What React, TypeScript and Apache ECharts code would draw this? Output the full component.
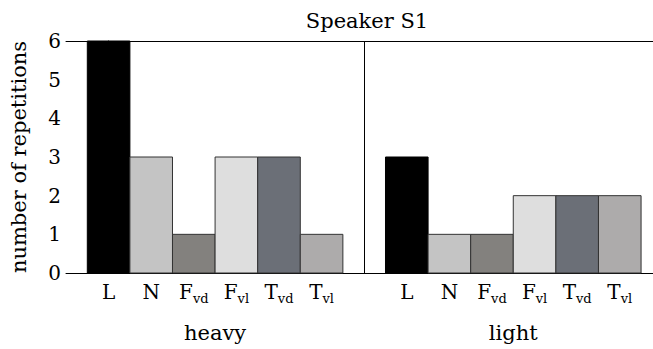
import React, { useEffect, useRef } from "react";
import * as echarts from "echarts";

const title = "Speaker S1";
const yAxisName = "number of repetitions";
const groups = ["heavy", "light"];
const barKinds = ["L", "N", "Fvd", "Fvl", "Tvd", "Tvl"];
const barColors = ["#000000", "#c4c4c4", "#83817e", "#dedede", "#6b6f77", "#adabab"];
const heavyValues = [6, 3, 1, 3, 3, 1];
const lightValues = [3, 1, 1, 2, 2, 2];
const yTicks = [0, 1, 2, 3, 4, 5, 6];

const FONT = "DejaVu Serif";

// slot positions: heavy at 0..5, separator at 6, light at 7..12
const slotOf = (g: number, i: number) => g * 7 + i;

const labelFor = (k: string) => {
  if (k.length === 1) return `{b|${k}}`;
  return `{b|${k[0]}}{s|${k.slice(1)}}`;
};

export default function App() {
  const ref = useRef<HTMLDivElement>(null);
  useEffect(() => {
    if (!ref.current) return;
    const chart = echarts.init(ref.current, null, { renderer: "svg" });
    const barData: any[] = [];
    [heavyValues, lightValues].forEach((vals, g) => {
      vals.forEach((v, i) => barData.push({ value: [slotOf(g, i), v, i] }));
    });
    const slotLabels: Record<number, string> = {};
    groups.forEach((_, g) => barKinds.forEach((k, i) => (slotLabels[slotOf(g, i)] = labelFor(k))));
    const groupData = groups.map((name, g) => ({ value: [slotOf(g, 2.5), 0], name }));

    chart.setOption({
      animation: false,
      title: {
        text: title,
        left: 362,
        textAlign: "center",
        top: 5,
        textStyle: { fontFamily: FONT, fontSize: 21, fontWeight: "normal", color: "#000" },
      },
      grid: { left: 65, right: 0, top: 41, bottom: 76, containLabel: false },
      xAxis: [
        {
          type: "value",
          min: -1,
          max: 12.78,
          interval: 1,
          position: "bottom",
          axisLine: { show: true, onZero: false, lineStyle: { color: "#000", width: 1 } },
          axisTick: { show: false },
          splitLine: { show: false },
          axisLabel: {
            margin: 9,
            showMaxLabel: false,
            formatter: (v: number) => slotLabels[Math.round(v)] ?? "",
            rich: {
              b: { fontFamily: FONT, fontSize: 20, color: "#000", lineHeight: 20 },
              s: { fontFamily: FONT, fontSize: 13, color: "#000", lineHeight: 13, padding: [13, 0, 0, 0] },
            },
          },
        },
        {
          type: "value",
          min: -1,
          max: 12.78,
          position: "top",
          axisLine: { show: true, onZero: false, lineStyle: { color: "#000", width: 1 } },
          axisTick: { show: false },
          axisLabel: { show: false },
          splitLine: { show: false },
        },
      ],
      yAxis: {
        type: "value",
        min: yTicks[0],
        max: yTicks[yTicks.length - 1],
        interval: 1,
        name: yAxisName,
        nameLocation: "middle",
        nameGap: 37,
        nameTextStyle: { fontFamily: FONT, fontSize: 21, color: "#000" },
        axisLine: { show: true, lineStyle: { color: "#000", width: 1 } },
        axisTick: { show: true, inside: true, length: 14, lineStyle: { color: "#000" } },
        axisLabel: { margin: 5, fontFamily: FONT, fontSize: 20, color: "#000" },
        splitLine: { show: false },
      },
      series: [
        {
          type: "custom",
          xAxisIndex: 0,
          data: barData,
          encode: { x: 0, y: 1 },
          renderItem: (params: any, api: any) => {
            const x = api.value(0);
            const y = api.value(1);
            const k = api.value(2);
            const p0 = api.coord([x - 0.5, y]);
            const p1 = api.coord([x + 0.5, 0]);
            return {
              type: "rect",
              shape: { x: p0[0], y: p0[1], width: p1[0] - p0[0], height: p1[1] - p0[1] },
              style: { fill: barColors[k], stroke: k === 0 ? "#000" : "#333", lineWidth: 1 },
            };
          },
          markLine: {
            silent: true,
            symbol: "none",
            label: { show: false },
            lineStyle: { color: "#000", width: 1, type: "solid" },
            data: [{ xAxis: 6 }],
          },
        },
        {
          type: "custom",
          xAxisIndex: 0,
          data: groupData,
          encode: { x: 0, y: 1 },
          renderItem: (params: any, api: any) => {
            const p = api.coord([api.value(0), 0]);
            return {
              type: "text",
              x: p[0],
              y: p[1] + 60,
              style: {
                text: groups[params.dataIndex],
                fontFamily: FONT,
                fontSize: 21,
                fill: "#000",
                align: "center",
                verticalAlign: "middle",
              },
            };
          },
        },
      ],
    });
    return () => chart.dispose();
  }, []);
  return <div ref={ref} style={{ width: 653, height: 349, position: "absolute", left: 0, top: 0 }} />;
}
